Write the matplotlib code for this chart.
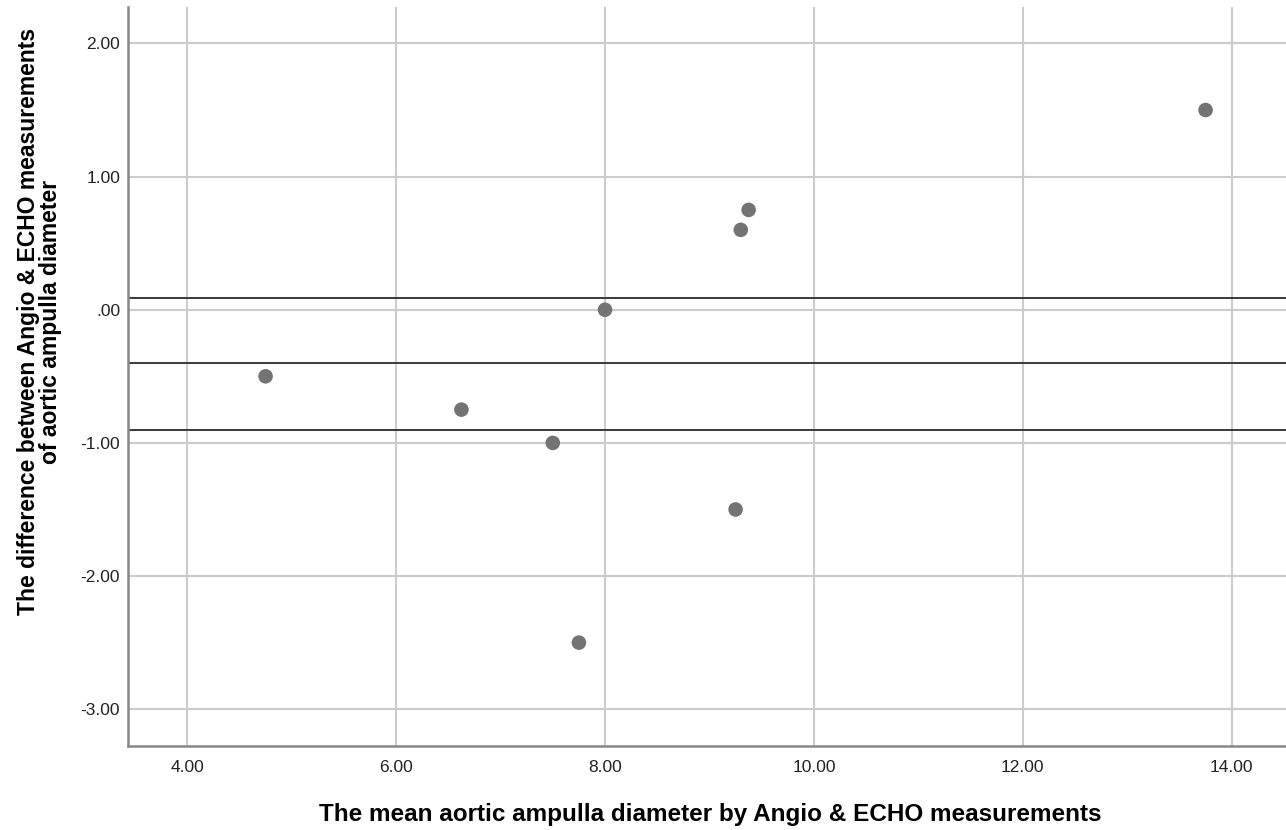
import matplotlib
matplotlib.use("Agg")
import matplotlib.pyplot as plt

# Bland-Altman style data
mean_diam = [4.75, 6.625, 7.5, 7.75, 8.0, 9.25, 9.3, 9.375, 13.75]
diff_diam = [-0.5, -0.75, -1.0, -2.5, 0.0, -1.5, 0.6, 0.75, 1.5]
ref_lines = [0.09, -0.40, -0.90]

x_ticks = [4, 6, 8, 10, 12, 14]
x_labels = ["4.00", "6.00", "8.00", "10.00", "12.00", "14.00"]
y_ticks = [2, 1, 0, -1, -2, -3]
y_labels = ["2.00", "1.00", ".00", "-1.00", "-2.00", "-3.00"]

plt.rcParams["font.family"] = ["Liberation Sans", "DejaVu Sans"]

fig = plt.figure(figsize=(12.86, 8.3), dpi=100)
ax = fig.add_axes([0.0998, 0.1016, 0.9002, 0.89])

ax.set_xlim(3.436, 14.52)
ax.set_ylim(-3.274, 2.274)

ax.set_xticks(x_ticks)
ax.set_xticklabels(x_labels)
ax.set_yticks(y_ticks)
ax.set_yticklabels(y_labels)
ax.tick_params(length=0, labelsize=12.5, colors="#222222")
ax.tick_params(axis="x", pad=10)
ax.tick_params(axis="y", pad=6)

ax.grid(True, color="#cccccc", linewidth=1.5)
ax.set_axisbelow(True)

for y in ref_lines:
    ax.axhline(y, color="#3a3a3a", linewidth=1.4, zorder=2)

ax.scatter(mean_diam, diff_diam, s=110, color="#737373", edgecolors="none", zorder=3)

for side in ["top", "right"]:
    ax.spines[side].set_visible(False)
for side in ["left", "bottom"]:
    ax.spines[side].set_color("#888888")
    ax.spines[side].set_linewidth(1.8)

ax.set_xlabel("The mean aortic ampulla diameter by Angio & ECHO measurements",
              fontsize=17.5, fontweight="bold")
ax.xaxis.set_label_coords(0.5025, -0.078)
ax.set_ylabel("The difference between Angio & ECHO measurements\nof aortic ampulla diameter",
              fontsize=16.5, fontweight="bold", linespacing=0.95)
ax.yaxis.set_label_coords(-0.057, 0.574)

fig.savefig("out.png", dpi=100)
